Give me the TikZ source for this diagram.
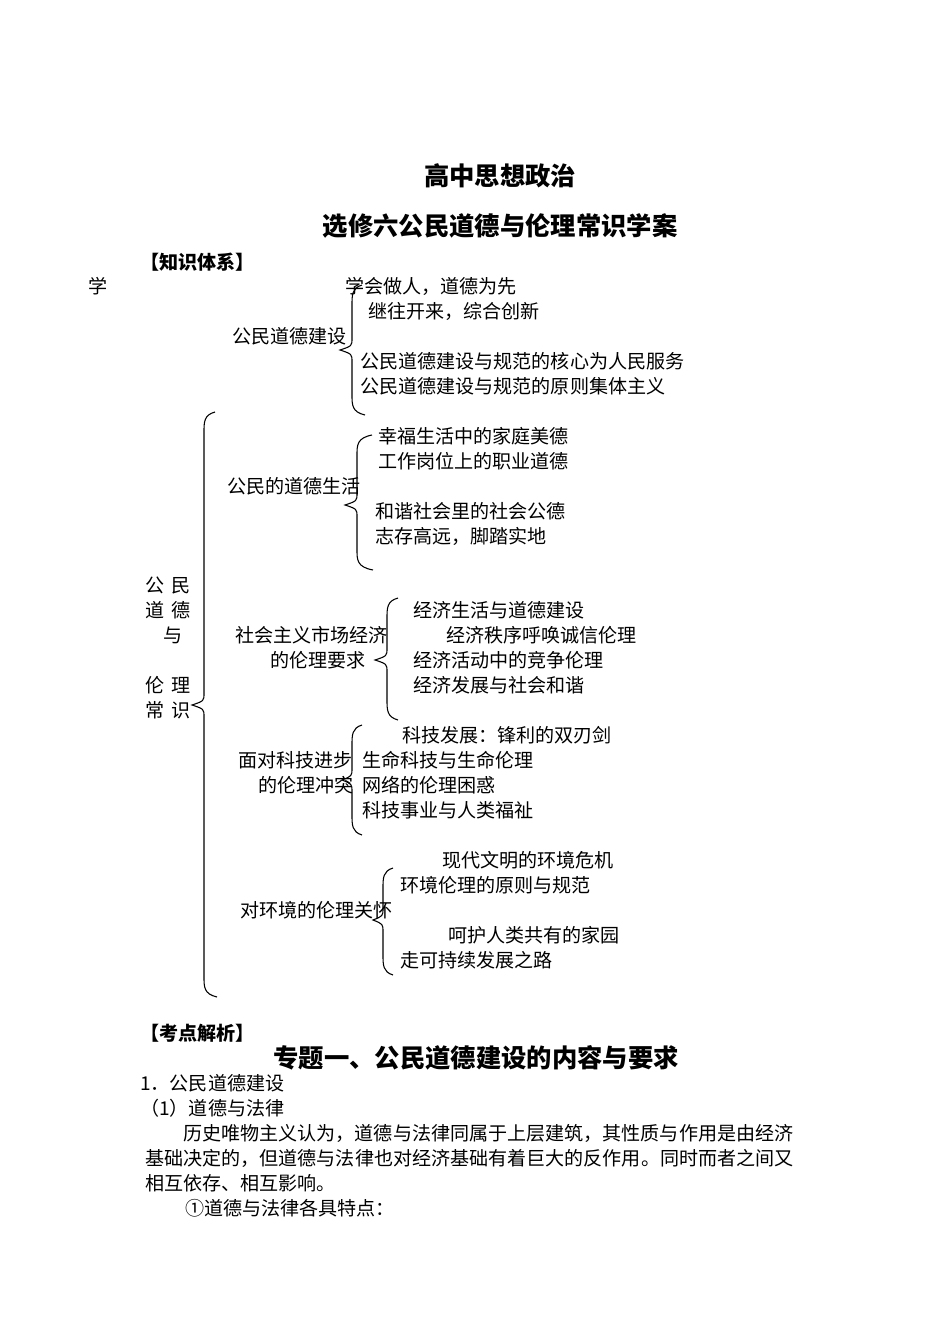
\documentclass[tikz,border=0pt]{standalone}
\usepackage{fontspec}
\setmainfont{Noto Sans CJK SC}
\begin{document}
\begin{tikzpicture}[x=0.75pt,y=-0.75pt,
  t/.style={anchor=west,inner sep=0pt,font=\fontsize{14.3}{15}\selectfont},
  tb/.style={anchor=center,inner sep=0pt,font=\fontsize{19}{20}\selectfont\bfseries},
  hb/.style={anchor=west,inner sep=0pt,font=\fontsize{14.3}{15}\selectfont\bfseries},
  br/.style={draw,line width=0.8pt}]
\useasboundingbox[fill=white] (0,0) rectangle (950,1344);
\newcommand{\brc}[7]{% xtop ytop xmid ytip xtip ybot xbot
 \draw[br] (#1,#2) .. controls (#3,#2+3) and (#3,#2+10) .. (#3,#2+20) -- (#3,#4-12) .. controls (#3,#4-4) .. (#5,#4) .. controls (#3,#4+4) .. (#3,#4+12) -- (#3,#6-20) .. controls (#3,#6-10) and (#3,#6-3) .. (#7,#6);}
\brc{362}{285}{352}{350}{340}{415}{365}
\brc{215}{412}{204}{705}{192}{997}{217}
\brc{372}{435}{357}{505}{345}{570}{373}
\brc{398}{598}{387}{660}{375}{720}{398}
\brc{362}{725}{352}{780}{342}{835}{362}
\brc{393}{868}{383}{920}{373}{975}{393}
\node[tb] (t1) at (500,176) {高中思想政治};
\node[tb] (t2) at (500,226) {选修六公民道德与伦理常识学案};
\node[hb] (h1) at (140,262) {【知识体系】};
\node[t] (a0) at (88,286) {学};
\node[t] (a1) at (345,286) {学会做人，道德为先};
\node[t] (a2) at (368,311) {继往开来，综合创新};
\node[t] (a3) at (232,336) {公民道德建设};
\node[t] (a4) at (360,361) {公民道德建设与规范的核心为人民服务};
\node[t] (a5) at (360,386) {公民道德建设与规范的原则集体主义};
\node[t] (b1) at (378,436) {幸福生活中的家庭美德};
\node[t] (b2) at (378,461) {工作岗位上的职业道德};
\node[t] (b3) at (227,486) {公民的道德生活};
\node[t] (b4) at (375,511) {和谐社会里的社会公德};
\node[t] (b5) at (375,536) {志存高远，脚踏实地};
\node[t] (l1) at (145,585) {公\hspace{0.4em}民};
\node[t] (l2) at (145,610) {道\hspace{0.4em}德};
\node[t] (l3) at (163,635) {与};
\node[t] (l4) at (145,685) {伦\hspace{0.4em}理};
\node[t] (l5) at (145,710) {常\hspace{0.4em}识};
\node[t] (c1) at (413,610) {经济生活与道德建设};
\node[t] (c2) at (235,635) {社会主义市场经济};
\node[t] (c3) at (446,635) {经济秩序呼唤诚信伦理};
\node[t] (c4) at (270,660) {的伦理要求};
\node[t] (c5) at (413,660) {经济活动中的竞争伦理};
\node[t] (c6) at (413,685) {经济发展与社会和谐};
\node[t] (d1) at (402,735) {科技发展：锋利的双刃剑};
\node[t] (d2) at (238,760) {面对科技进步};
\node[t] (d3) at (362,760) {生命科技与生命伦理};
\node[t] (d4) at (258,785) {的伦理冲突};
\node[t] (d5) at (362,785) {网络的伦理困惑};
\node[t] (d6) at (362,810) {科技事业与人类福祉};
\node[t] (e1) at (442,860) {现代文明的环境危机};
\node[t] (e2) at (400,885) {环境伦理的原则与规范};
\node[t] (e3) at (240,910) {对环境的伦理关怀};
\node[t] (e4) at (448,935) {呵护人类共有的家园};
\node[t] (e5) at (400,960) {走可持续发展之路};
\node[hb] (h2) at (140,1033) {【考点解析】};
\node[tb] (h3) at (476,1058) {专题一、公民道德建设的内容与要求};
\node[t] (p1) at (140,1083) {1．公民道德建设};
\node[t] (p2) at (140,1108) {（1）道德与法律};
\node[t] (p3) at (183,1133) {历史唯物主义认为，道德与法律同属于上层建筑，其性质与作用是由经济};
\node[t] (p4) at (145,1158) {基础决定的，但道德与法律也对经济基础有着巨大的反作用。同时而者之间又};
\node[t] (p5) at (145,1183) {相互依存、相互影响。};
\node[t] (p6) at (185,1208) {①道德与法律各具特点：};
\end{tikzpicture}
\end{document}
